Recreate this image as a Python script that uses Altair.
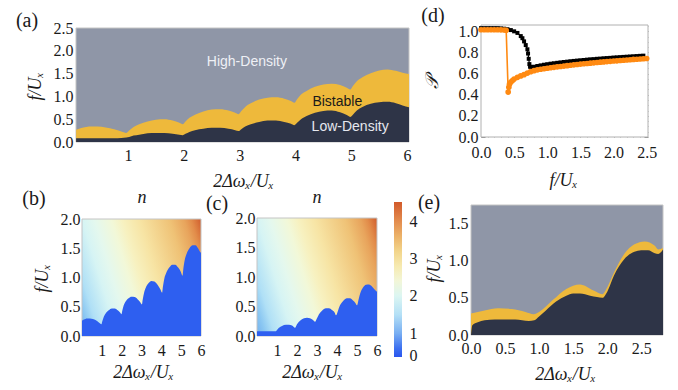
import altair as alt
import pandas as pd

# ---------------- data ----------------
# (a) phase boundaries vs 2Δω/U
a_x = [0.07, 0.15, 0.25, 0.35, 0.45, 0.6, 0.75, 0.88, 0.97,
       1.02, 1.1, 1.2, 1.35, 1.5, 1.65, 1.8, 1.92, 1.98,
       2.03, 2.1, 2.2, 2.35, 2.5, 2.65, 2.8, 2.92, 2.98,
       3.03, 3.1, 3.2, 3.35, 3.5, 3.65, 3.8, 3.92, 3.98,
       4.03, 4.1, 4.2, 4.35, 4.5, 4.65, 4.8, 4.92, 4.98,
       5.03, 5.1, 5.2, 5.35, 5.5, 5.65, 5.8, 5.92, 6.035]
a_hd = [0.27, 0.30, 0.33, 0.34, 0.34, 0.32, 0.28, 0.23, 0.2,
        0.25, 0.33, 0.39, 0.45, 0.49, 0.5, 0.47, 0.42, 0.39,
        0.45, 0.53, 0.6, 0.67, 0.71, 0.72, 0.69, 0.64, 0.61,
        0.68, 0.77, 0.85, 0.93, 0.97, 0.98, 0.95, 0.9, 0.86,
        0.94, 1.04, 1.12, 1.21, 1.26, 1.28, 1.25, 1.19, 1.15,
        1.23, 1.33, 1.42, 1.51, 1.57, 1.59, 1.56, 1.52, 1.49]
a_ld = [0.08, 0.08, 0.08, 0.08, 0.08, 0.08, 0.08, 0.09, 0.1,
        0.11, 0.14, 0.16, 0.19, 0.2, 0.2, 0.18, 0.16, 0.15,
        0.18, 0.22, 0.26, 0.29, 0.31, 0.31, 0.29, 0.26, 0.24,
        0.28, 0.34, 0.39, 0.44, 0.47, 0.47, 0.44, 0.4, 0.37,
        0.42, 0.5, 0.57, 0.64, 0.68, 0.69, 0.65, 0.59, 0.55,
        0.6, 0.69, 0.77, 0.84, 0.87, 0.88, 0.85, 0.8, 0.76]

# (d) order parameter vs f/U
blk_x = [0.0, 0.05, 0.1, 0.15, 0.2, 0.25, 0.3, 0.35, 0.4, 0.45, 0.5, 0.55, 0.6, 0.625, 0.65, 0.675, 0.7, 0.71,
         0.72, 0.73, 0.74, 0.76, 0.8, 0.85, 0.9, 0.95, 1.0, 1.05, 1.1, 1.15, 1.2, 1.25, 1.3, 1.35, 1.4, 1.45,
         1.5, 1.55, 1.6, 1.65, 1.7, 1.75, 1.8, 1.85, 1.9, 1.95, 2.0, 2.05, 2.1, 2.15, 2.2, 2.25, 2.3, 2.35,
         2.4, 2.45]
blk_p = [1.03, 1.03, 1.03, 1.03, 1.03, 1.03, 1.028, 1.025, 1.02, 1.012, 1.0, 0.985, 0.955, 0.935, 0.905, 0.87,
         0.83, 0.79, 0.74, 0.69, 0.665, 0.658, 0.665, 0.672, 0.678, 0.684, 0.689, 0.694, 0.698, 0.702, 0.706,
         0.71, 0.713, 0.717, 0.72, 0.723, 0.726, 0.729, 0.732, 0.735, 0.737, 0.74, 0.742, 0.745, 0.747, 0.749,
         0.752, 0.754, 0.756, 0.758, 0.76, 0.762, 0.764, 0.766, 0.768, 0.77]
org_x = [0.0, 0.05, 0.1, 0.15, 0.2, 0.25, 0.3, 0.35, 0.38, 0.41, 0.42, 0.43, 0.45, 0.475, 0.5, 0.55, 0.6, 0.65,
         0.7, 0.75, 0.8, 0.85, 0.9, 0.95, 1.0, 1.05, 1.1, 1.15, 1.2, 1.25, 1.3, 1.35, 1.4, 1.45, 1.5, 1.55, 1.6,
         1.65, 1.7, 1.75, 1.8, 1.85, 1.9, 1.95, 2.0, 2.05, 2.1, 2.15, 2.2, 2.25, 2.3, 2.35, 2.4, 2.45, 2.5]
org_p = [1.015, 1.015, 1.015, 1.015, 1.015, 1.015, 1.014, 1.013, 1.01, 0.425, 0.47, 0.5, 0.52, 0.535, 0.548,
         0.565, 0.578, 0.59, 0.605, 0.618, 0.628, 0.636, 0.641, 0.646, 0.651, 0.655, 0.659, 0.664, 0.667, 0.671,
         0.675, 0.679, 0.683, 0.686, 0.69, 0.693, 0.696, 0.699, 0.702, 0.705, 0.708, 0.711, 0.714, 0.716, 0.719,
         0.721, 0.724, 0.726, 0.729, 0.731, 0.734, 0.736, 0.738, 0.741, 0.743]

# (b) low-density boundary
b_x = [0.0, 0.1, 0.25, 0.4, 0.55, 0.7, 0.85, 0.98,
       1.02, 1.1, 1.2, 1.35, 1.5, 1.65, 1.8, 1.92, 1.99,
       2.03, 2.1, 2.2, 2.35, 2.5, 2.65, 2.8, 2.93, 3.02,
       3.06, 3.13, 3.22, 3.35, 3.5, 3.65, 3.8, 3.95, 4.04,
       4.08, 4.15, 4.25, 4.4, 4.55, 4.7, 4.85, 4.98, 5.07,
       5.11, 5.18, 5.28, 5.42, 5.58, 5.72, 5.85, 5.95, 6.0]
b_f = [0.26, 0.28, 0.30, 0.30, 0.29, 0.27, 0.23, 0.2,
       0.25, 0.33, 0.39, 0.44, 0.47, 0.47, 0.44, 0.40, 0.37,
       0.43, 0.52, 0.59, 0.645, 0.67, 0.665, 0.63, 0.58, 0.54,
       0.62, 0.74, 0.83, 0.9, 0.94, 0.93, 0.88, 0.8, 0.74,
       0.84, 0.98, 1.08, 1.17, 1.22, 1.22, 1.17, 1.1, 1.03,
       1.15, 1.3, 1.41, 1.5, 1.55, 1.55, 1.5, 1.44, 1.42]

# (c) low-density boundary
c_x = [0.0, 0.3, 0.6, 0.95, 1.0, 1.1, 1.25, 1.45, 1.6, 1.75, 1.9,
       2.0, 2.15, 2.35, 2.5, 2.65, 2.8, 2.9,
       3.0, 3.1, 3.25, 3.45, 3.6, 3.75, 3.88, 3.95,
       4.05, 4.15, 4.3, 4.5, 4.65, 4.8, 4.92, 5.0,
       5.08, 5.18, 5.3, 5.45, 5.6, 5.75, 5.88, 6.0]
c_f = [0.08, 0.08, 0.08, 0.08, 0.1, 0.14, 0.17, 0.19, 0.19, 0.18, 0.14,
       0.2, 0.26, 0.3, 0.31, 0.3, 0.27, 0.24,
       0.3, 0.37, 0.43, 0.47, 0.47, 0.44, 0.4, 0.35,
       0.43, 0.52, 0.59, 0.64, 0.64, 0.6, 0.56, 0.52,
       0.62, 0.74, 0.82, 0.87, 0.875, 0.84, 0.79, 0.75]

# (e) phase boundaries
e_ld_x = [0.0, 0.02, 0.1, 0.2, 0.35, 0.5, 0.65, 0.75, 0.85, 0.93, 1.0, 1.1, 1.25, 1.4, 1.5, 1.6, 1.75, 1.85,
          1.93, 2.0, 2.1, 2.25, 2.4, 2.5, 2.6, 2.7, 2.75, 2.82]
e_ld_f = [0.0, 0.13, 0.17, 0.2, 0.21, 0.21, 0.21, 0.2, 0.19, 0.2, 0.25, 0.33, 0.45, 0.53, 0.56, 0.56, 0.53,
          0.51, 0.5, 0.58, 0.8, 1.02, 1.12, 1.14, 1.14, 1.1, 1.09, 1.15]
e_hd_x = [0.0, 0.1, 0.2, 0.4, 0.6, 0.8, 0.92, 1.0, 1.2, 1.4, 1.6, 1.8, 1.93, 2.0, 2.1, 2.25, 2.4, 2.55, 2.7,
          2.75, 2.82]
e_hd_f = [0.29, 0.31, 0.33, 0.36, 0.35, 0.31, 0.28, 0.31, 0.47, 0.62, 0.68, 0.6, 0.55, 0.64, 0.84, 1.09, 1.22,
          1.26, 1.2, 1.15, 1.17]

# colour bar (n)
cb_lo, cb_hi = 0.37, 4.51
cb_ticks = [0.42, 1, 2, 3, 4]
cb_off = [0.0, 0.056, 0.152, 0.273, 0.394, 0.49, 0.587, 0.684, 0.78, 0.877, 1.0]
cb_col = ["#2a55ee", "#3c70f0", "#78aef2", "#b4e0f6", "#dcf6f2", "#f2f6d8", "#f6eab0", "#f2d48a", "#ecb268",
          "#e38c4e", "#d25a2a"]
heat_off = [0.0, 0.058, 0.115, 0.23, 0.31, 0.42, 0.49, 0.6, 0.795, 0.89, 0.936, 1.0]
heat_col = ["#72b0ee", "#8cc8f2", "#b0e0f6", "#d6f4f4", "#e4f8ee", "#f2f8d8", "#f7f1c0", "#f7e4a4", "#efc276",
            "#e8a45c", "#e28c4a", "#d05c2c"]

# frame tick positions of panel (d)
d_xmajor = [0, 0.5, 1, 1.5, 2, 2.5]
d_xminor = [0.1, 0.2, 0.3, 0.4, 0.6, 0.7, 0.8, 0.9, 1.1, 1.2, 1.3, 1.4, 1.6, 1.7, 1.8, 1.9, 2.1, 2.2, 2.3, 2.4]
d_ymajor = [0, 0.2, 0.4, 0.6, 0.8, 1.0]
d_yminor = [0.05, 0.1, 0.15, 0.25, 0.3, 0.35, 0.45, 0.5, 0.55, 0.65, 0.7, 0.75, 0.85, 0.9, 0.95, 1.05]

# ---------------- style ----------------
W, H = 678, 390
SERIF = "Liberation Serif"
SANS = "Liberation Sans"
INK = "#1a1a1a"
GRAY = "#8f96a7"
YEL = "#eeb93b"
DARK = "#2e3447"
BLUE = "#2e5ff0"
ORANGE = "#ff8a12"
FRAME = "#c4c4c4"


def grad(off, col, x1, y1, x2, y2):
    return {"gradient": "linear", "x1": x1, "y1": y1, "x2": x2, "y2": y2,
            "stops": [{"offset": o, "color": c} for o, c in zip(off, col)]}


def offset_for(orient, pos):
    if orient == "left":
        return -pos
    if orient == "right":
        return pos - W
    if orient == "top":
        return -pos
    return pos - H


def axis(orient, pos, values, fmt, title, tx, ty, pad):
    # pos: pixel position of the axis line in the 678x390 canvas
    kw = dict(orient=orient, offset=offset_for(orient, pos), values=values, format=fmt, labelPadding=pad,
              ticks=False, domain=False, grid=False, labelFont=SERIF, labelFontSize=16, labelColor=INK,
              labelFlush=False, labelOverlap=False)
    if title:
        kw.update(title=title, titleX=tx, titleY=ty, titleAlign="center", titleBaseline="middle",
                  titleAngle=270 if orient == "left" else 0, titleFont=SERIF, titleFontStyle="italic",
                  titleFontSize=18, titleFontWeight="normal", titleColor=INK)
    else:
        kw["title"] = None
    return alt.Axis(**kw)


def tick_axis(orient, pos, values, size, color):
    return alt.Axis(orient=orient, offset=offset_for(orient, pos), values=values, labels=False, domain=False,
                    grid=False, ticks=True, tickSize=size, tickColor=color, tickWidth=1, title=None)


def inner_ticks(xdom, xr, ydom, yr, xv, yv, size, color):
    """Mathematica-style inward frame ticks, drawn by axes that share the panel's scales."""
    left, right = xr
    bottom, top = yr
    out = []
    for xo, xp, yo, yp in (("top", bottom, "right", left), ("bottom", top, "left", right)):
        out.append(alt.Chart(pd.DataFrame({"x": [], "y": []})).mark_point(opacity=0).encode(
            x=alt.X("x:Q", scale=alt.Scale(domain=xdom, range=[left, right], nice=False, zero=False),
                    axis=tick_axis(xo, xp, xv, size, color)),
            y=alt.Y("y:Q", scale=alt.Scale(domain=ydom, range=[bottom, top], nice=False, zero=False),
                    axis=tick_axis(yo, yp, yv, size, color))))
    return out


def tag(text, px, py, size=20, style="normal"):
    return alt.Chart(pd.DataFrame({"t": [text]})).mark_text(
        font=SERIF, fontSize=size, fontStyle=style, color=INK, align="center", baseline="middle"
    ).encode(text="t:N", x=alt.value(px), y=alt.value(py))


def box(X, Y, x0, x1, y0, y1, **mark):
    return alt.Chart(pd.DataFrame({"x": [x0], "x2": [x1], "y": [y0], "y2": [y1]})).mark_rect(**mark).encode(
        x=X, x2="x2:Q", y=Y, y2="y2:Q")


XT = "2Δωₓ/Uₓ"
FT = "f/Uₓ"

# ---------------- (a): plot area x 76-409, y 28-142 ----------------
ax_dom, ay_dom = [0.068, 6.035], [0, 2.5]
X_a = alt.X("x:Q", scale=alt.Scale(domain=ax_dom, range=[76, 409], nice=False, zero=False),
            axis=axis("bottom", 142, [1, 2, 3, 4, 5, 6], "d", XT, 243, 39, 5))
Y_a = alt.Y("y:Q", scale=alt.Scale(domain=ay_dom, range=[142, 28], nice=False),
            axis=axis("left", 76, [0, 0.5, 1, 1.5, 2, 2.5], ".1f", FT, -41, 86, 3))
a_bg = box(X_a, Y_a, ax_dom[0], ax_dom[1], ay_dom[0], ay_dom[1], fill=GRAY, stroke=FRAME, strokeWidth=1)
a_hd_area = alt.Chart(pd.DataFrame({"x": a_x, "y": a_hd})).mark_area(
    color=YEL, interpolate="monotone").encode(x=X_a, y=Y_a)
a_ld_area = alt.Chart(pd.DataFrame({"x": a_x, "y": a_ld})).mark_area(
    color=DARK, interpolate="monotone").encode(x=X_a, y=Y_a)
a_labels = alt.Chart(pd.DataFrame({
    "x": [3.13, 4.75, 4.98], "y": [1.75, 0.88, 0.33],
    "t": ["High-Density", "Bistable", "Low-Density"],
    "c": ["#eef0f5", "#1a1a1a", "#e6e8ef"]})).mark_text(font=SANS, fontSize=14).encode(
    x=X_a, y=Y_a, text="t:N", color=alt.Color("c:N", scale=None))
panel_a = alt.layer(a_bg, a_hd_area, a_ld_area, a_labels)

# ---------------- (d): plot area x 481-648, y 25-137 ----------------
dx_dom, dy_dom = [0, 2.52], [0, 1.06]
X_d = alt.X("x:Q", scale=alt.Scale(domain=dx_dom, range=[481, 648], nice=False),
            axis=axis("bottom", 137, [0, 0.5, 1, 1.5, 2, 2.5], ".1f", FT, 563, 43, 7))
Y_d = alt.Y("y:Q", scale=alt.Scale(domain=dy_dom, range=[137, 25], nice=False),
            axis=axis("left", 481, [0, 0.2, 0.4, 0.6, 0.8, 1.0], ".1f", "𝒫", -49, 82, 3))
d_bg = box(X_d, Y_d, dx_dom[0], dx_dom[1], dy_dom[0], dy_dom[1], fill="white", stroke="#b0b0b0", strokeWidth=1)
d_blk = alt.Chart(pd.DataFrame({"x": blk_x, "y": blk_p})).mark_line(
    color="black", strokeWidth=1.2,
    point=alt.OverlayMarkDef(shape="square", size=16, filled=True, color="black")).encode(x=X_d, y=Y_d)
d_org = alt.Chart(pd.DataFrame({"x": org_x, "y": org_p})).mark_line(
    color=ORANGE, strokeWidth=1.6,
    point=alt.OverlayMarkDef(shape="circle", size=32, filled=True, color=ORANGE)).encode(x=X_d, y=Y_d)
panel_d = alt.layer(d_bg, d_blk, d_org)
d_ticks = (inner_ticks(dx_dom, [481, 648], dy_dom, [137, 25], d_xmajor, d_ymajor, 4, "#8a8a8a")
           + inner_ticks(dx_dom, [481, 648], dy_dom, [137, 25], d_xminor, d_yminor, 2, "#a8a8a8"))

# ---------------- (b), (c) ----------------
HEAT = grad(heat_off, heat_col, 0, 1, 1.193, 0.642)


def heat_panel(bx, bf, left, right, top, bottom, ytitle, xt_center):
    X = alt.X("x:Q", scale=alt.Scale(domain=[0, 6], range=[left, right], nice=False, zero=False),
              axis=axis("bottom", bottom, [1, 2, 3, 4, 5, 6], "d", XT, xt_center, 36, 6))
    Y = alt.Y("y:Q", scale=alt.Scale(domain=[0, 2], range=[bottom, top], nice=False),
              axis=axis("left", left, [0, 0.5, 1, 1.5, 2], ".1f", FT if ytitle else None, -40, 278, 2))
    bg = box(X, Y, 0, 6, 0, 2, fill=HEAT, stroke=FRAME, strokeWidth=1)
    low = alt.Chart(pd.DataFrame({"x": bx, "y": bf})).mark_area(
        color=BLUE, interpolate="monotone").encode(x=X, y=Y)
    return alt.layer(bg, low)


panel_b = heat_panel(b_x, b_f, 82, 201, 219, 336, True, 143)
panel_c = heat_panel(c_x, c_f, 257, 377, 218, 336, False, 312)

# ---------------- colour bar: x 394-402, y 202-357 ----------------
panel_cb = alt.Chart(pd.DataFrame({"x": [0], "x2": [1], "y": [cb_lo], "y2": [cb_hi]})).mark_rect(
    fill=grad(cb_off, cb_col, 0, 1, 0, 0)).encode(
    x=alt.X("x:Q", scale=alt.Scale(domain=[0, 1], range=[394, 402], nice=False), axis=None),
    x2="x2:Q",
    y=alt.Y("y:Q", scale=alt.Scale(domain=[cb_lo, cb_hi], range=[357, 202], nice=False, zero=False),
            axis=alt.Axis(orient="right", offset=402 - W, values=cb_ticks,
                          labelExpr="datum.value < 0.5 ? '0' : format(datum.value, 'd')",
                          labelPadding=7, ticks=False, domain=False, grid=False, title=None,
                          labelFont=SERIF, labelFontSize=16, labelColor=INK, labelFlush=False,
                          labelOverlap=False)),
    y2="y2:Q")

# ---------------- (e): plot area x 471-663, y 205-335 ----------------
ex_dom, ey_dom = [0, 2.82], [0, 1.75]
X_e = alt.X("x:Q", scale=alt.Scale(domain=ex_dom, range=[471, 663], nice=False),
            axis=axis("bottom", 335, [0, 0.5, 1, 1.5, 2, 2.5], ".1f", XT, 565, 39, 5))
Y_e = alt.Y("y:Q", scale=alt.Scale(domain=ey_dom, range=[335, 205], nice=False),
            axis=axis("left", 471, [0, 0.5, 1, 1.5], ".1f", FT, -37, 268, 3))
e_bg = box(X_e, Y_e, ex_dom[0], ex_dom[1], ey_dom[0], ey_dom[1], fill=GRAY, stroke=FRAME, strokeWidth=1)
e_hd_area = alt.Chart(pd.DataFrame({"x": e_hd_x, "y": e_hd_f})).mark_area(
    color=YEL, interpolate="monotone").encode(x=X_e, y=Y_e)
e_ld_area = alt.Chart(pd.DataFrame({"x": e_ld_x, "y": e_ld_f})).mark_area(
    color=DARK, interpolate="monotone").encode(x=X_e, y=Y_e)
panel_e = alt.layer(e_bg, e_hd_area, e_ld_area)

# ---------------- panel letters and heat-map titles ----------------
texts = alt.layer(
    tag("(a)", 27, 21), tag("(d)", 433, 16), tag("(b)", 34, 199), tag("(c)", 217, 204), tag("(e)", 429, 203),
    tag("n", 142, 198, 18, "italic"), tag("n", 317, 198, 18, "italic"),
)

chart = alt.layer(panel_a, panel_d, *d_ticks, panel_b, panel_c, panel_cb, panel_e, texts).resolve_scale(
    x="independent", y="independent"
).properties(
    width=W, height=H, padding=0, background="white",
    autosize=alt.AutoSizeParams(type="none")
).configure_view(stroke=None)

chart.save("out.html", embed_options={"renderer": "svg", "actions": False})
